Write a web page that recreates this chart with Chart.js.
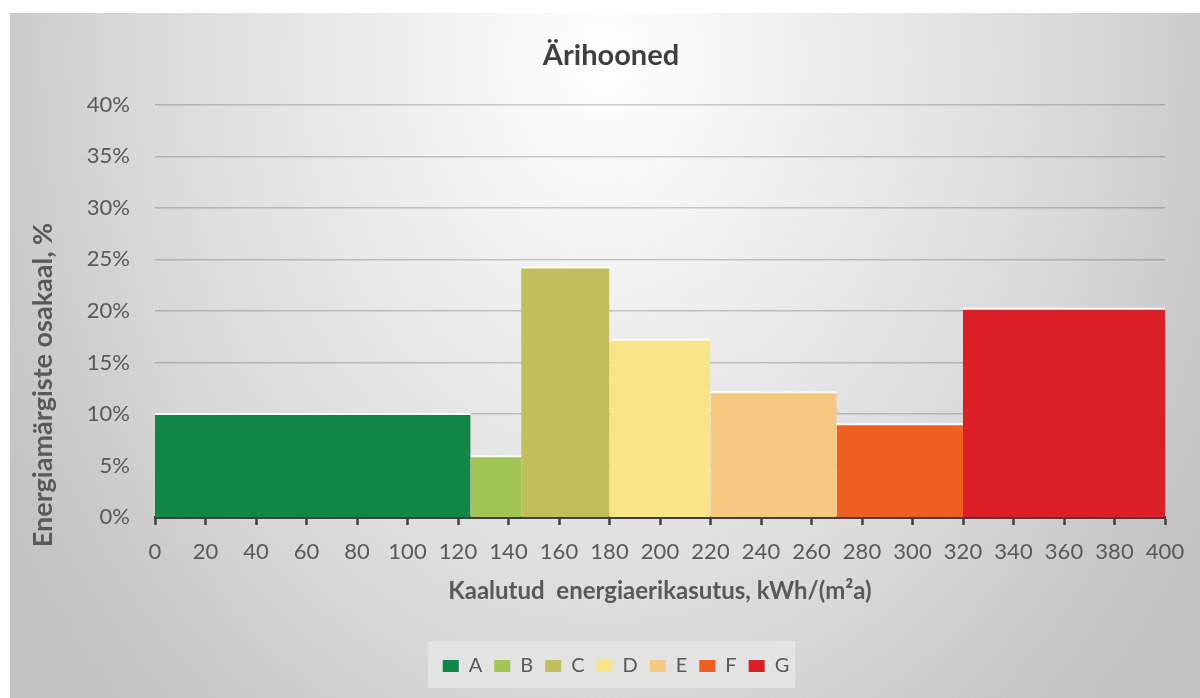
<!DOCTYPE html>
<html lang="et">
<head>
<meta charset="utf-8">
<title>Ärihooned</title>
<script src="https://cdn.jsdelivr.net/npm/chart.js@4/dist/chart.umd.min.js"></script>
<style>
  html, body { margin: 0; padding: 0; background: #ffffff; }
  #wrap { width: 1200px; height: 698px; position: relative; }
</style>
</head>
<body>
<div id="wrap"><canvas id="chart" width="1200" height="698"></canvas></div>
<script>
// Energy classes with their consumption bands (kWh/(m²a)) and share of certificates (%)
const classes = ['A', 'B', 'C', 'D', 'E', 'F', 'G'];
const bandFrom = [0, 125, 145, 180, 220, 270, 320];
const bandTo = [125, 145, 180, 220, 270, 320, 400];
const shares = [10.0, 5.9, 24.2, 17.2, 12.1, 9.0, 20.2];
const classColors = ['#108647', '#a2c558', '#c1bf5c', '#f8e58a', '#f6c880', '#ef5f22', '#da1f27'];
const xTicks = [0, 20, 40, 60, 80, 100, 120, 140, 160, 180, 200, 220, 240, 260, 280, 300, 320, 340, 360, 380, 400];
const yTicks = [0, 5, 10, 15, 20, 25, 30, 35, 40];
const yTitle = 'Energiamärgiste osakaal, %';

const FONT = 'Lato, "Open Sans", "DejaVu Sans", sans-serif';
const TEXT = '#595959';

// Each class is a flat band filled down to zero: a histogram with unequal bin widths
const datasets = classes.map((c, i) => ({
  label: c,
  data: [{ x: bandFrom[i], y: shares[i] }, { x: bandTo[i], y: shares[i] }],
  borderColor: 'rgba(255,255,255,0.95)',
  borderWidth: 2,
  backgroundColor: classColors[i],
  fill: 'origin',
  pointRadius: 0,
  pointHoverRadius: 0,
  tension: 0
}));

// Soft grey panel behind the chart, a lighter box behind the legend, and the value-axis title
const backdrop = {
  id: 'backdrop',
  afterLayout(chart) {
    const lg = chart.legend;
    if (lg) { lg.left += 5; lg.right += 5; }
  },
  beforeDraw(chart) {
    const ctx = chart.ctx;
    ctx.save();
    ctx.fillStyle = '#ffffff';
    ctx.fillRect(0, 0, chart.width, chart.height);
    ctx.beginPath();
    ctx.rect(10, 13, chart.width - 10, chart.height - 13);
    ctx.clip();
    ctx.translate(605, 60);
    ctx.scale(1, 1.29);
    const g = ctx.createRadialGradient(0, 0, 0, 0, 0, 700);
    g.addColorStop(0, '#ffffff');
    g.addColorStop(0.3, '#eeeeee');
    g.addColorStop(0.55, '#e0e0e0');
    g.addColorStop(0.7, '#d7d7d7');
    g.addColorStop(0.9, '#c8c8c8');
    g.addColorStop(1, '#c2c2c2');
    ctx.fillStyle = g;
    ctx.fillRect(-700, -100, 1400, 700);
    ctx.restore();

    const lg = chart.legend;
    if (lg && lg.lineWidths && lg.lineWidths.length) {
      const rowW = lg.lineWidths[0];
      const cx = (lg.left + lg.right) / 2;
      ctx.save();
      ctx.fillStyle = '#e3e3e3';
      ctx.fillRect(Math.round(cx - rowW / 2 - 9), 641, Math.round(rowW + 8), 47);
      ctx.restore();
    }
  },
  afterDraw(chart) {
    const ctx = chart.ctx;
    ctx.save();
    ctx.translate(43, 385);
    ctx.rotate(-Math.PI / 2);
    ctx.fillStyle = TEXT;
    ctx.font = 'bold 27px ' + FONT;
    ctx.textAlign = 'center';
    ctx.textBaseline = 'middle';
    ctx.fillText(yTitle, 0, 0);
    ctx.restore();
  }
};

new Chart(document.getElementById('chart'), {
  type: 'line',
  data: { datasets },
  plugins: [backdrop],
  options: {
    responsive: false,
    animation: false,
    events: [],
    layout: { padding: { left: 22, right: 0, top: 0, bottom: 12 } },
    plugins: {
      title: {
        display: true,
        text: 'Ärihooned',
        color: '#404040',
        font: { family: FONT, size: 29, weight: 'bold' },
        padding: { top: 38, bottom: 32 }
      },
      legend: {
        display: true,
        position: 'bottom',
        labels: {
          color: TEXT,
          font: { family: FONT, size: 20 },
          boxWidth: 16,
          boxHeight: 12,
          padding: 12,
          generateLabels(chart) {
            return chart.data.datasets.map((d, i) => ({
              text: d.label,
              fillStyle: d.backgroundColor,
              strokeStyle: 'rgba(0,0,0,0)',
              lineWidth: 0,
              hidden: false,
              datasetIndex: i,
              fontColor: TEXT
            }));
          }
        }
      },
      tooltip: { enabled: false }
    },
    scales: {
      x: {
        type: 'linear',
        min: 0,
        max: 400,
        afterBuildTicks(scale) { scale.ticks = xTicks.map(v => ({ value: v })); },
        afterFit(scale) { scale.height = 127; },
        ticks: {
          color: TEXT,
          font: { family: FONT, size: 22 },
          padding: 14,
          maxRotation: 0,
          autoSkip: false
        },
        grid: {
          drawOnChartArea: false,
          drawTicks: true,
          tickLength: 8,
          tickWidth: 2.5,
          tickColor: '#404040'
        },
        border: { display: true, color: '#404040', width: 3 },
        title: {
          display: true,
          text: 'Kaalutud  energiaerikasutus, kWh/(m²a)',
          color: TEXT,
          font: { family: FONT, size: 24, weight: 'bold' },
          padding: { top: 0, bottom: 38 }
        }
      },
      y: {
        min: 0,
        max: 40,
        afterBuildTicks(scale) { scale.ticks = yTicks.map(v => ({ value: v })); },
        afterFit(scale) { scale.width = 133; },
        ticks: {
          color: TEXT,
          font: { family: FONT, size: 22 },
          padding: 25,
          callback: v => v + '%'
        },
        grid: {
          color: 'rgba(0,0,0,0.19)',
          lineWidth: 1.6,
          drawTicks: false
        },
        border: { display: false }
      },
      yRight: {
        position: 'right',
        display: true,
        afterFit(scale) { scale.width = 35; },
        ticks: { display: false },
        grid: { drawOnChartArea: false, drawTicks: false },
        border: { display: false }
      }
    }
  }
});
</script>
</body>
</html>
